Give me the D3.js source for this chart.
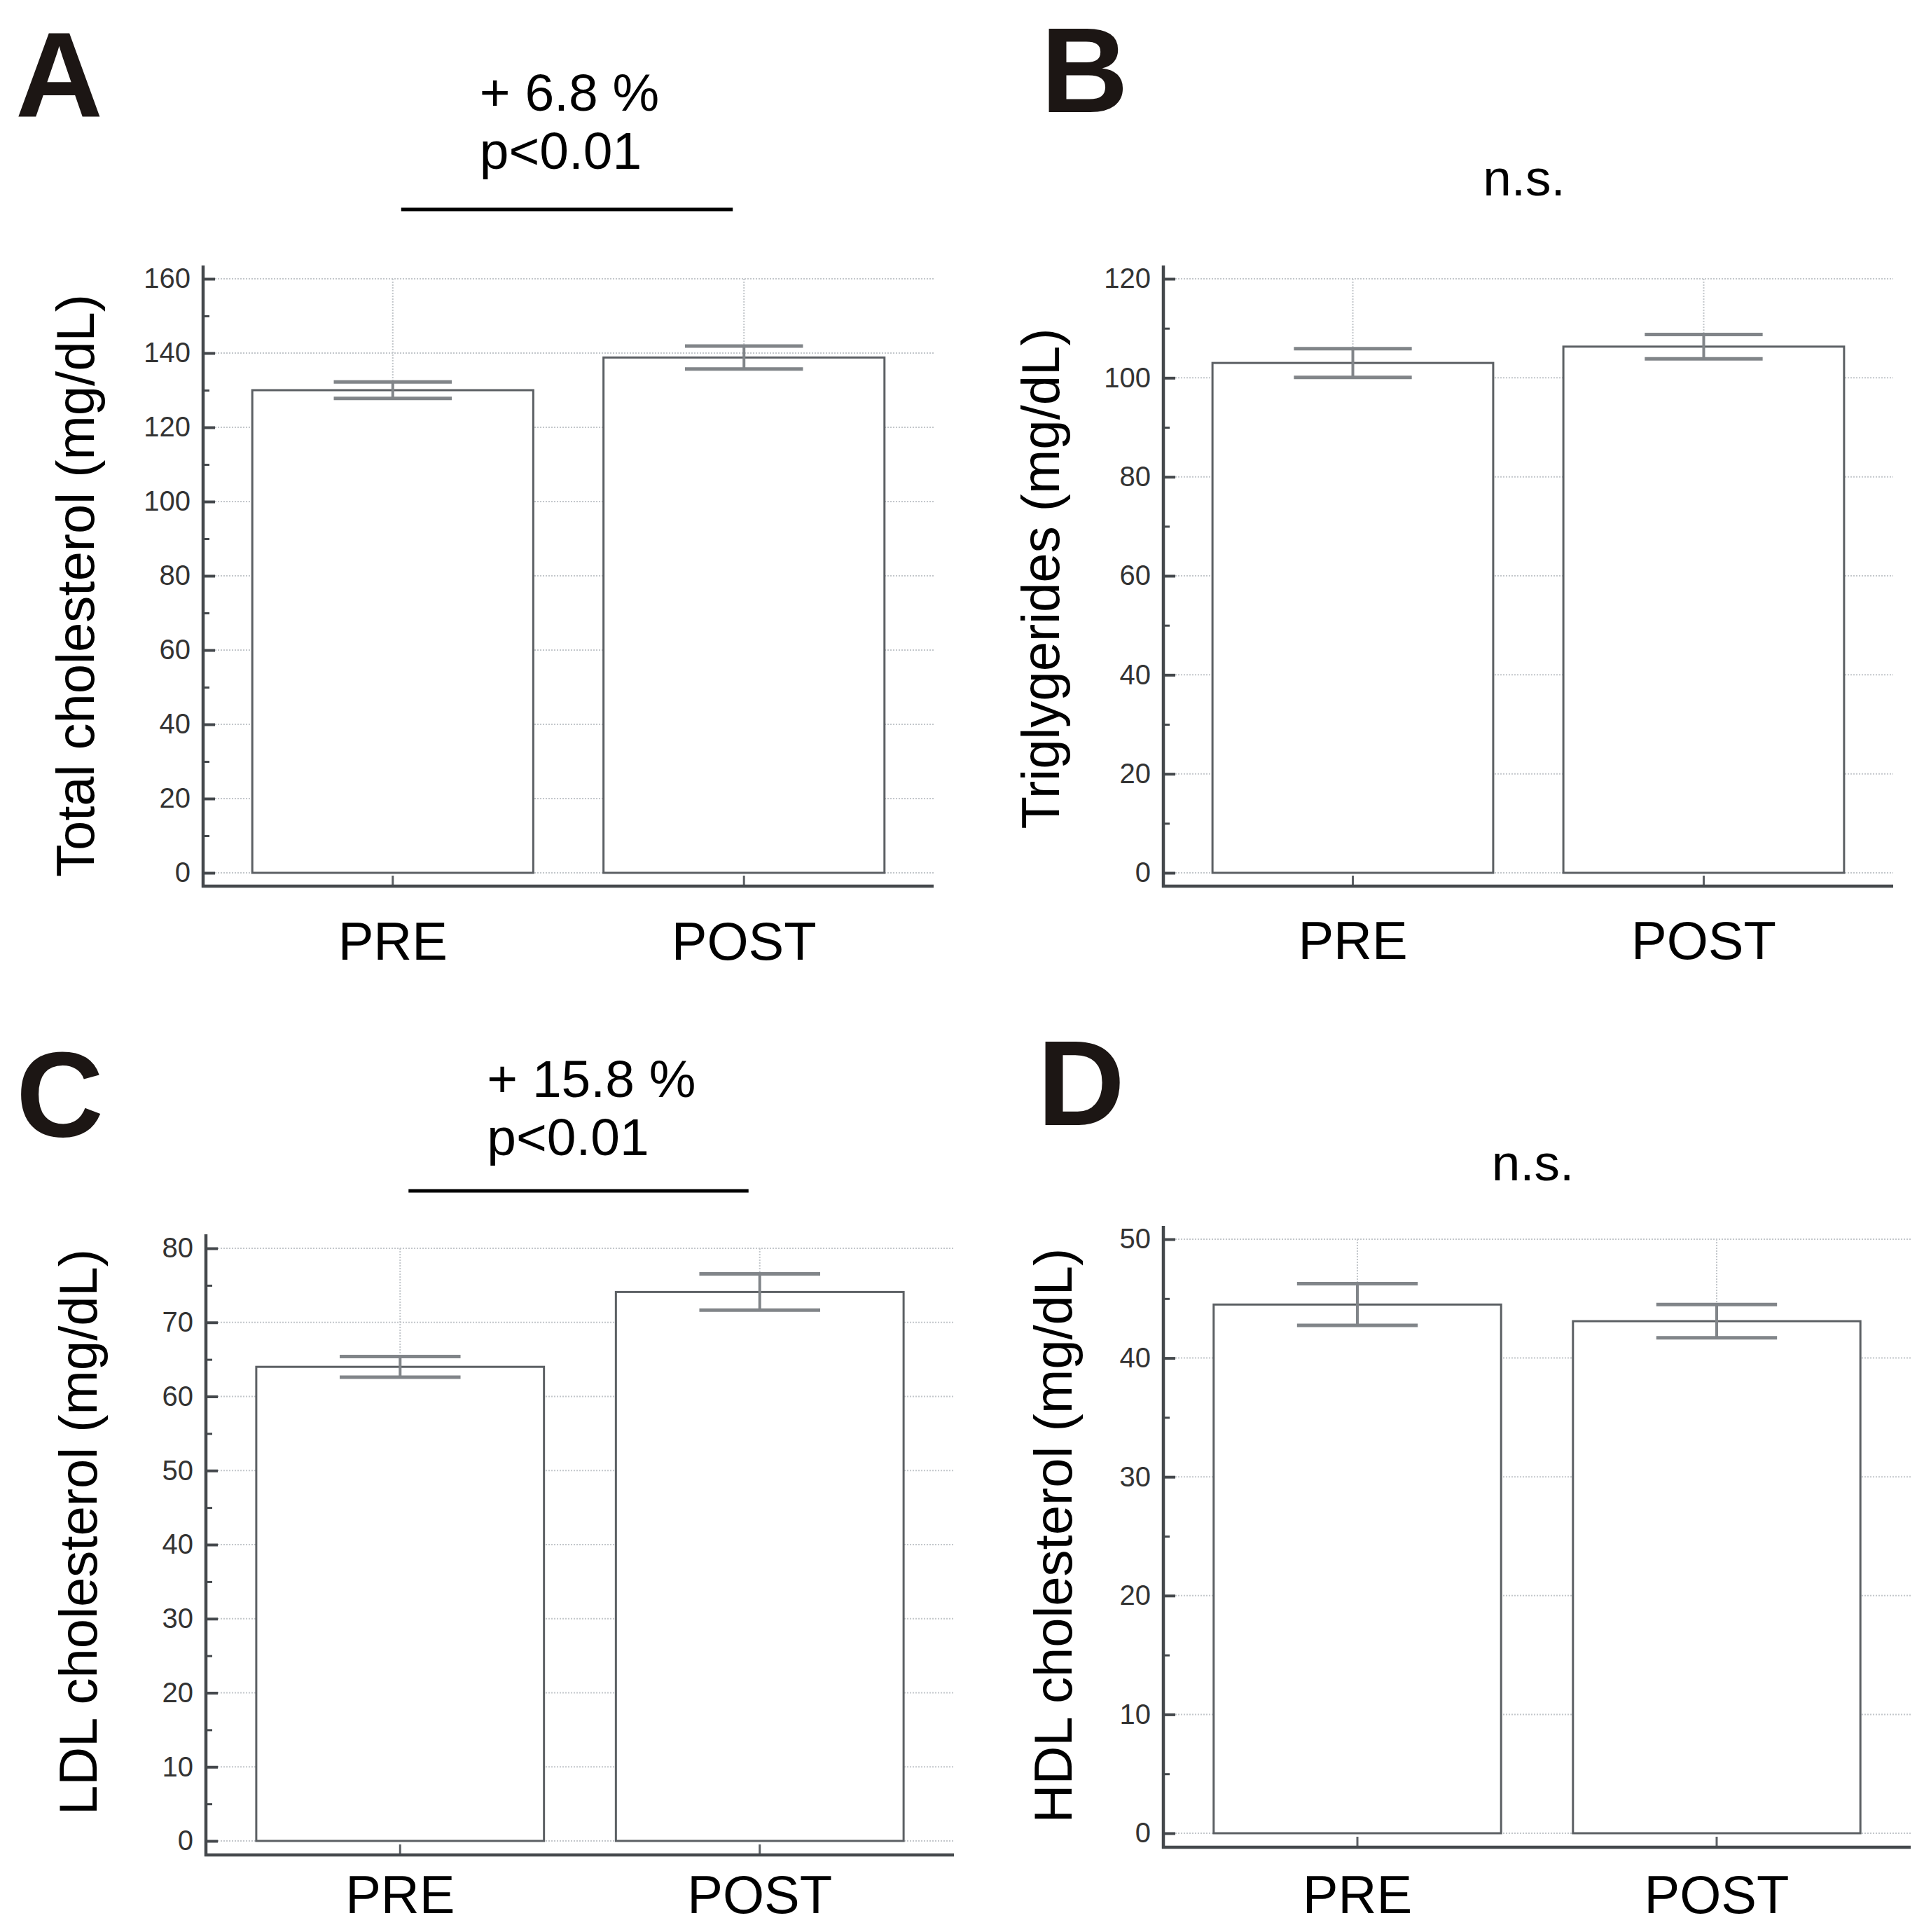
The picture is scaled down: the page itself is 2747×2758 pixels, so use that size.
<!DOCTYPE html>
<html>
<head>
<meta charset="utf-8">
<script src="https://cdn.jsdelivr.net/npm/d3@7"></script>
<style>
  body { margin: 0; background: #fff; }
  svg { display: block; font-family: "Liberation Sans", Arial, Helvetica, sans-serif; }
</style>
</head>
<body>
<svg id="fig" width="2747" height="2758"></svg>
<script>
// === Data ===
const groups = ["PRE", "POST"];

const totalMean = [130.0, 138.8];
const totalErr = [2.2, 3.1];

const trigMean = [103.0, 106.3];
const trigErr = [2.9, 2.45];

const ldlMean = [64.0, 74.1];
const ldlErr = [1.4, 2.45];

const hdlMean = [44.5, 43.1];
const hdlErr = [1.75, 1.4];

const yMaxes = [160, 120, 80, 50];
const yMajorSteps = [20, 20, 10, 10];

const yLabels = [
  "Total cholesterol (mg/dL)",
  "Triglygerides (mg/dL)",
  "LDL cholesterol (mg/dL)",
  "HDL cholesterol (mg/dL)"
];
const panelLetters = ["A", "B", "C", "D"];
const annotations = [
  ["+ 6.8 %", "p<0.01"],
  ["n.s."],
  ["+ 15.8 %", "p<0.01"],
  ["n.s."]
];

// === Layout (pixels) ===
const layouts = [
  { x0: 290, x1: 1333, yTop: 398, y0: 1246, axisTop: 379, axisY: 1265, catBase: 1370,
    labelX: 134, labelCY: 836, letterX: 22, letterY: 166, annY: [158, 241], lineY: 299 },
  { x0: 1661, x1: 2703, yTop: 398, y0: 1246, axisTop: 379, axisY: 1265, catBase: 1369,
    labelX: 1512, labelCY: 826, letterX: 1486, letterY: 160, annY: [279] },
  { x0: 294, x1: 1362, yTop: 1782, y0: 2628, axisTop: 1762, axisY: 2648, catBase: 2731,
    labelX: 138, labelCY: 2187, letterX: 23, letterY: 1622, annY: [1566, 1649], lineY: 1700 },
  { x0: 1661, x1: 2728, yTop: 1769, y0: 2617, axisTop: 1750, axisY: 2637, catBase: 2731,
    labelX: 1530, labelCY: 2192, letterX: 1481, letterY: 1606, annY: [1685] }
];

const means = [totalMean, trigMean, ldlMean, hdlMean];
const errs = [totalErr, trigErr, ldlErr, hdlErr];

const svg = d3.select("#fig");
svg.append("rect").attr("width", 2747).attr("height", 2758).attr("fill", "#fff");

const axisColor = "#44484c";
const barColor = "#5c6064";
const errColor = "#818589";
const gridColor = "#c3c7cb";

layouts.forEach((L, i) => drawPanel(i, L));

function drawPanel(i, L) {
  const data = groups.map((k, j) => ({ group: k, mean: means[i][j], err: errs[i][j] }));
  const g = svg.append("g");

  const x = d3.scaleBand().domain(groups).range([L.x0, L.x1]).paddingInner(0.2).paddingOuter(0.14);
  const y = d3.scaleLinear().domain([0, yMaxes[i]]).range([L.y0, L.yTop]);
  const step = yMajorSteps[i];
  const majors = d3.range(0, yMaxes[i] + step / 2, step);
  const minors = d3.range(step / 2, yMaxes[i], step);
  const cx = d => x(d) + x.bandwidth() / 2;

  // dotted grid
  g.append("g").selectAll("line").data(majors).join("line")
    .attr("x1", L.x0 + 17).attr("x2", L.x1)
    .attr("y1", d => y(d)).attr("y2", d => y(d))
    .attr("stroke", gridColor).attr("stroke-width", 2).attr("stroke-dasharray", "2,2");
  g.append("g").selectAll("line").data(groups).join("line")
    .attr("x1", cx).attr("x2", cx)
    .attr("y1", y(yMaxes[i])).attr("y2", y(0))
    .attr("stroke", gridColor).attr("stroke-width", 2).attr("stroke-dasharray", "2,2");

  // bars
  g.append("g").selectAll("rect").data(data).join("rect")
    .attr("x", d => x(d.group))
    .attr("y", d => y(d.mean))
    .attr("width", x.bandwidth())
    .attr("height", d => y(0) - y(d.mean))
    .attr("fill", "#fff").attr("stroke", barColor).attr("stroke-width", 3);

  // error bars
  const capW = x.bandwidth() * 0.42;
  const eb = g.append("g").attr("stroke", errColor);
  eb.selectAll(".v").data(data).join("line").attr("class", "v")
    .attr("x1", d => cx(d.group)).attr("x2", d => cx(d.group))
    .attr("y1", d => y(d.mean + d.err)).attr("y2", d => y(d.mean - d.err))
    .attr("stroke-width", 4);
  eb.selectAll(".cap").data(data.flatMap(d => [d.mean + d.err, d.mean - d.err].map(v => ({ group: d.group, v }))))
    .join("line").attr("class", "cap")
    .attr("x1", d => cx(d.group) - capW / 2).attr("x2", d => cx(d.group) + capW / 2)
    .attr("y1", d => y(d.v)).attr("y2", d => y(d.v))
    .attr("stroke-width", 5);

  // y axis
  const yAx = g.append("g").attr("transform", `translate(${L.x0},0)`)
    .call(d3.axisLeft(y).tickValues(majors).tickSize(-17).tickPadding(18).tickFormat(d3.format("d")));
  yAx.select(".domain").remove();
  yAx.selectAll("line").attr("stroke", axisColor).attr("stroke-width", 4);
  yAx.selectAll("text").attr("font-size", 40).attr("fill", "#333").attr("font-family", null);
  const yMin = g.append("g").attr("transform", `translate(${L.x0},0)`)
    .call(d3.axisLeft(y).tickValues(minors).tickSize(-9).tickFormat(""));
  yMin.select(".domain").remove();
  yMin.selectAll("line").attr("stroke", axisColor).attr("stroke-width", 3);

  // x axis
  const fsCat = 76;
  const xAx = g.append("g").attr("transform", `translate(0,${L.axisY})`)
    .call(d3.axisBottom(x).tickSize(-15).tickPadding(L.catBase - L.axisY - 0.71 * fsCat));
  xAx.select(".domain").remove();
  xAx.selectAll("line").attr("stroke", barColor).attr("stroke-width", 3);
  xAx.selectAll("text").attr("font-size", fsCat).attr("fill", "#000").attr("font-family", null);

  // axis lines
  g.append("line").attr("x1", L.x0).attr("x2", L.x0).attr("y1", L.axisTop).attr("y2", L.axisY + 2)
    .attr("stroke", axisColor).attr("stroke-width", 4.5);
  g.append("line").attr("x1", L.x0 - 2).attr("x2", L.x1).attr("y1", L.axisY).attr("y2", L.axisY)
    .attr("stroke", axisColor).attr("stroke-width", 4.5);

  // y label
  svg.append("text").attr("transform", `translate(${L.labelX},${L.labelCY}) rotate(-90)`)
    .attr("text-anchor", "middle").attr("font-size", 76).attr("fill", "#000")
    .text(yLabels[i]);

  // panel letter
  svg.append("text").attr("x", L.letterX).attr("y", L.letterY)
    .attr("font-size", 173).attr("font-weight", "bold").attr("fill", "#1c1614")
    .text(panelLetters[i]);

  // significance annotation
  const ann = annotations[i];
  if (ann.length === 2) {
    const left = cx(groups[0]) + 124;
    ann.forEach((t, k) => {
      svg.append("text").attr("x", left).attr("y", L.annY[k])
        .attr("font-size", 75).attr("fill", "#000").text(t);
    });
    svg.append("line")
      .attr("x1", cx(groups[0]) + 12).attr("x2", cx(groups[1]) - 16)
      .attr("y1", L.lineY).attr("y2", L.lineY)
      .attr("stroke", "#000").attr("stroke-width", 5);
  } else {
    svg.append("text").attr("x", (cx(groups[0]) + cx(groups[1])) / 2 - 6).attr("y", L.annY[0])
      .attr("text-anchor", "middle").attr("font-size", 73).attr("fill", "#000").text(ann[0]);
  }
}
</script>
</body>
</html>
